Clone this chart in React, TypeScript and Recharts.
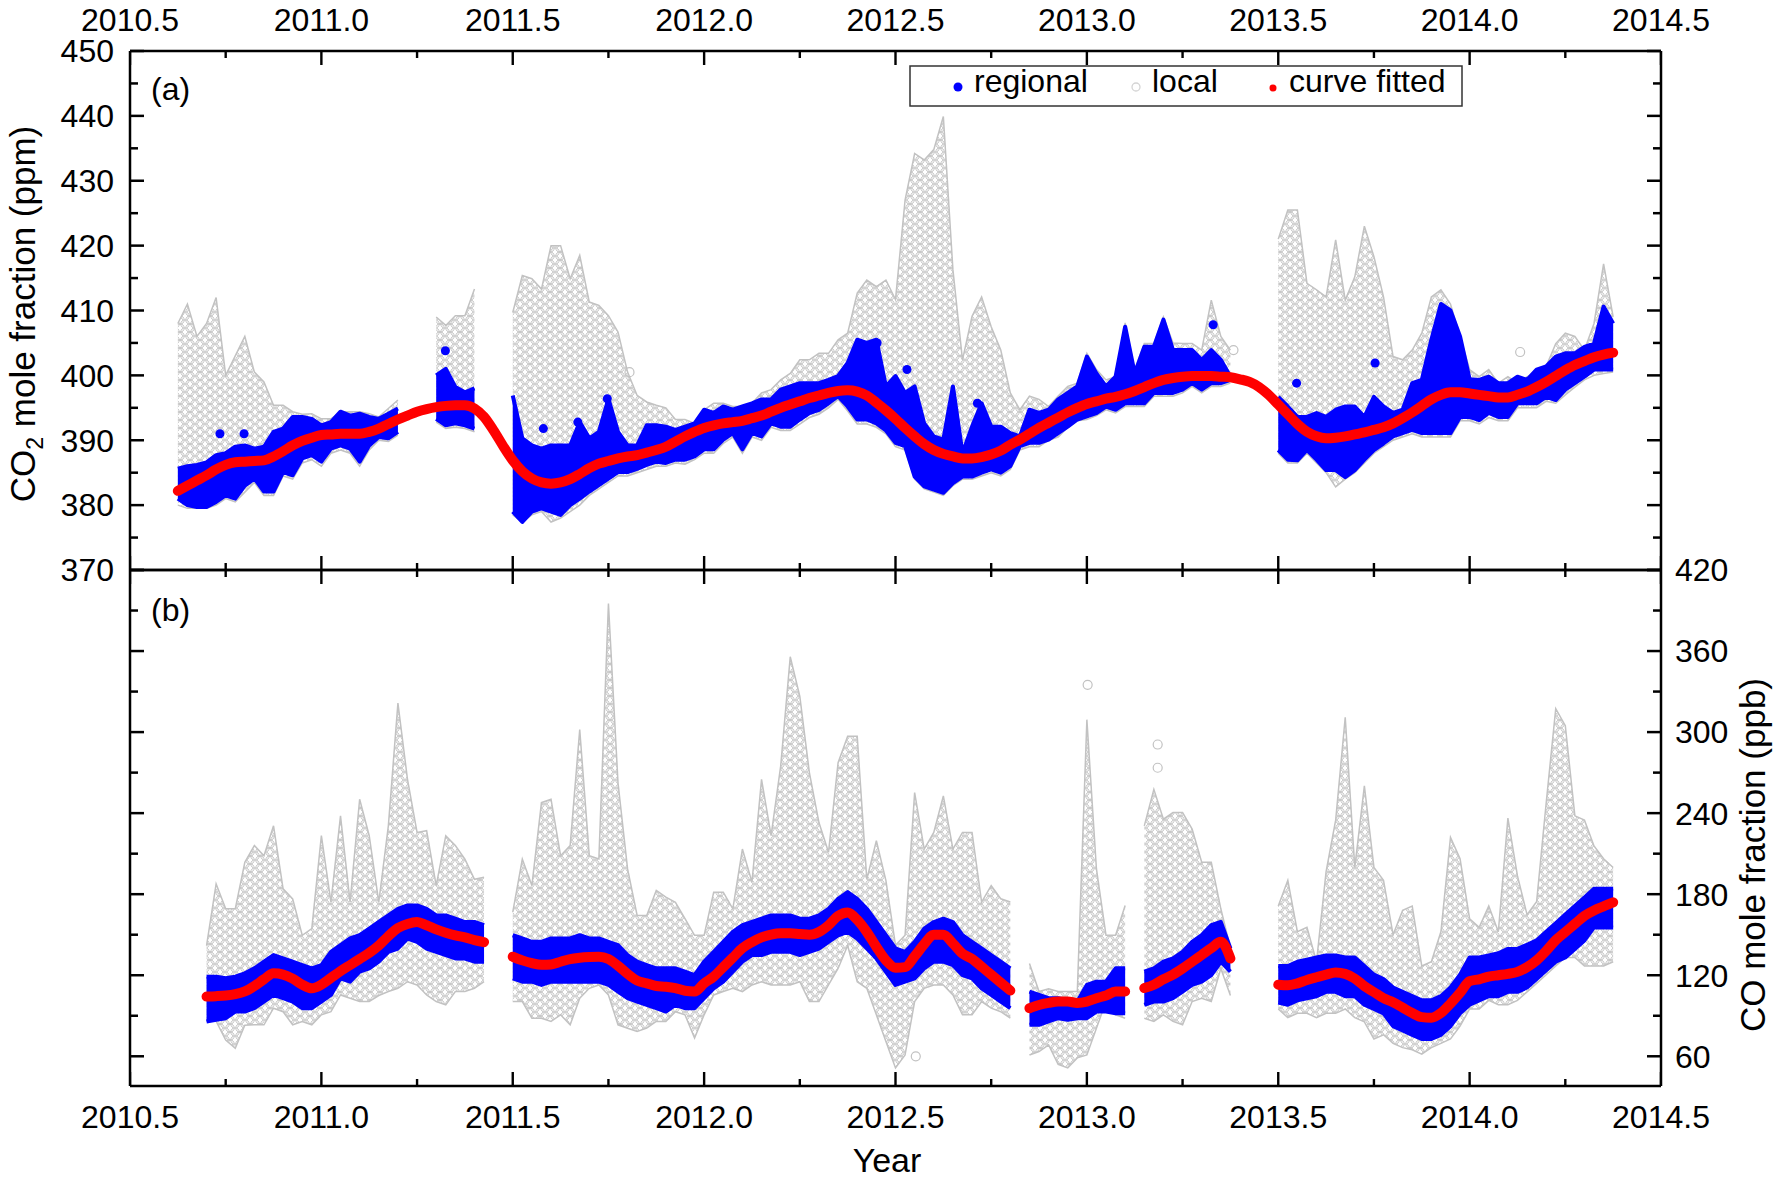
import React from 'react';
import { ComposedChart, Area, Line, Scatter, XAxis, YAxis } from 'recharts';

if (typeof document !== 'undefined') document.body.style.margin = '0';

// time grid (samples every 0.025 yr)
const CO2_START = 2010.625;
const CO_START = 2010.7;
const STEP = 0.025;

// quarter-year ticks; the half-year ones are labelled
const yearTicks = [
  2010.5, 2010.75, 2011, 2011.25, 2011.5, 2011.75, 2012, 2012.25, 2012.5,
  2012.75, 2013, 2013.25, 2013.5, 2013.75, 2014, 2014.25, 2014.5,
];
const co2Ticks = [370, 380, 390, 400, 410, 420, 430, 440, 450];
const co2Minor = [375, 385, 395, 405, 415, 425, 435, 445];
const coTicks = [60, 120, 180, 240, 300, 360, 420];
const coMinor = [90, 150, 210, 270, 330, 390];
const CO2_DOM: [number, number] = [370, 450];
const CO_DOM: [number, number] = [38, 420];

// ---- panel (a) CO2, ppm ----
const co2LocHi = [
  408, 411, 406, 408, 412, 400, 403, 406, 400.5, 399,
  395.4, 395.4, 394.4, 394, 394.1, 393.3, 393.3, 394.4, 394.4, 394.4,
  394.1, 393.6, 394.9, 396.2, null, null, null, 409, 407.7, 409.2,
  409.2, 413.3, null, null, null, 409.7, 415.4, 414.9, 413.3, 420,
  420, 414.9, 418.5, 411.3, 410.8, 409.2, 406.7, 400.5, 396.9, 395.9,
  395.4, 395, 393.2, 393.2, 392.6, 394.7, 395.7, 395.7, 395.2, 395.2,
  395.7, 397.3, 397.8, 399.3, 400.3, 402.4, 402.4, 403.4, 403.4, 405.5,
  406.5, 412.7, 414.7, 413.7, 414.7, 411.7, 427, 434.2, 433.2, 434.8,
  439.9, 416.3, 402.4, 409.1, 412.1, 407.5, 403.9, 397.3, 394.7, 396.8,
  396.3, 395.2, 396.8, 398.3, 398.8, 403.4, 400.9, 399.3, 399.8, 408.1,
  400.9, 404.9, 404.9, 409, 405, 404.9, 404.9, 403.9, 411.6, 406,
  403.9, null, null, null, null, 421, 425.5, 425.5, 414.2, 413.2,
  412.1, 420.9, 411.6, 415.2, 423, 418.3, 412.1, 402.9, 402.4, 403.9,
  406.5, 412.1, 413.2, 411, 406, 400.9, 399.8, 400.9, 398.8, 399.8,
  398.8, 399.8, 400.3, 401.4, 404.9, 406.5, 406, 403.9, 408, 417.2,
  409,
];
const co2LocLo = [
  380, 379.5, 379.5, 379.5, 380, 381, 380.5, 382, 383.5, 381.5,
  381.5, 384.5, 384, 386.5, 387, 386, 388, 388.5, 388, 386,
  388.5, 390, 389.8, 390.8, null, null, null, 392.8, 391.8, 392,
  391.8, 391.3, null, null, null, 378.5, 377.4, 378.5, 379, 377.4,
  378, 379, 380, 381.5, 382.5, 383.5, 384.5, 384.5, 385, 385.5,
  386, 386, 386.5, 386.3, 387, 388, 388, 389.5, 390.5, 388,
  390.5, 390, 392, 391.5, 391.5, 392.5, 393.5, 394, 395, 396.3,
  394.5, 392.5, 392.5, 392, 391, 389, 388.5, 384, 382.5, 382,
  381.5, 383, 384, 384, 384.5, 385, 384.5, 385.5, 388.5, 389,
  389, 390, 390.5, 392, 393, 393.2, 393.8, 394.7, 394.2, 395.2,
  395.2, 395.2, 396.8, 396.8, 396.8, 397.3, 398.3, 397.3, 398.3, 398.3,
  398.8, null, null, null, null, 388, 386.5, 386.5, 388, 386.5,
  385, 382.8, 384, 385, 386.5, 388, 389, 390, 390.5, 391,
  390.5, 390.5, 390.5, 390.5, 393, 393, 392.5, 393.5, 393, 393,
  395, 395, 395, 396, 395.7, 397, 398.2, 399.3, 400, 400.3,
  400.5,
];
const co2RegHi = [
  385.6, 386, 386.2, 386.6, 387.7, 388, 389, 389.2, 388.7, 389,
  391.3, 391.8, 393.6, 393.6, 393.3, 392.3, 392.8, 394.4, 393.8, 394.1,
  393.6, 393.3, 394.1, 394.9, null, null, null, 400, 401, 398.2,
  397.4, 398, null, null, null, 396.9, 390.3, 389.2, 388.7, 389.2,
  389.2, 389.2, 392.8, 390.3, 391.3, 396.4, 391.3, 389.2, 389.2, 392.3,
  392.3, 392.1, 391.6, 392.1, 392.6, 394.7, 394.2, 395.2, 394.7, 395.2,
  395.7, 396.3, 396.3, 397.8, 398.3, 398.8, 398.8, 398.8, 399.3, 399.9,
  401.9, 405.5, 405, 405.5, 398.3, 399.9, 397.3, 398.3, 392.6, 390.6,
  390.1, 398.3, 388, 392.1, 395.7, 392.1, 392.1, 391.1, 390.6, 394.7,
  394.2, 394.7, 396.3, 397.3, 398.3, 402.9, 400.3, 398.3, 399.8, 407.5,
  400.3, 404.4, 404.4, 408.6, 403.9, 403.9, 403.9, 402.4, 403.9, 402.4,
  399.8, null, null, null, null, 396.7, 395.2, 393.6, 393.6, 394.2,
  393.6, 394.7, 395.2, 395.2, 393.6, 396.7, 395.2, 394.2, 394.7, 398.8,
  399.3, 405.5, 411, 410, 406, 399.4, 399.3, 399.8, 398.8, 398.8,
  399.8, 399.3, 400.9, 401.4, 402.9, 403.4, 403.4, 404.4, 404.9, 410.6,
  408,
];
const co2RegLo = [
  381, 380, 379.7, 379.7, 380.5, 381.5, 381, 383, 384.1, 382.1,
  382.1, 385.1, 384.6, 387.2, 387.7, 386.7, 388.7, 389.2, 388.7, 386.7,
  389.2, 390.5, 390.3, 391.3, null, null, null, 393.3, 392.3, 392.6,
  392.3, 391.8, null, null, null, 379, 377.4, 379, 379.5, 379,
  378.5, 380, 381, 382.1, 383.1, 384.1, 385.1, 385.1, 385.6, 386.2,
  386.7, 386.5, 387, 387, 387.5, 388.6, 388.6, 390.1, 391.1, 388.6,
  391.1, 390.6, 392.6, 392.1, 392.1, 393.2, 394.2, 394.7, 395.7, 396.8,
  395.2, 393.2, 393.2, 392.6, 391.5, 389.6, 389.1, 384.4, 382.9, 382.4,
  381.9, 383.4, 384.4, 384.4, 385, 385.5, 385, 386, 389.1, 389.6,
  389.6, 390.1, 391.1, 392.1, 393.2, 393.7, 394.2, 395.2, 394.7, 395.7,
  395.7, 395.7, 397.3, 397.3, 397.3, 397.8, 398.8, 397.8, 398.8, 398.8,
  399.3, null, null, null, null, 388.5, 387, 386.9, 388.5, 387,
  385.4, 385.4, 384.3, 385.4, 387, 388.5, 389.5, 390.6, 391.1, 391.6,
  391.1, 391.1, 391.1, 391.1, 393.6, 393.6, 393.1, 394.2, 393.6, 393.6,
  395.7, 395.7, 395.7, 396.7, 396.2, 397.8, 398.8, 399.8, 400.9, 400.9,
  400.9,
];
const co2Fit = [
  382.2, 383.0, 383.8, 384.6, 385.5, 386.2, 386.6, 386.7, 386.8, 386.9,
  387.5, 388.3, 389.2, 389.9, 390.4, 390.8, 390.9, 391.0, 391.0, 391.0,
  391.3, 391.8, 392.5, 393.2, 393.8, 394.4, 394.8, 395.1, 395.3, 395.4,
  395.4, 394.9, 393.6, 391.5, 389.1, 386.9, 385.2, 384.1, 383.5, 383.3,
  383.5, 384.0, 384.8, 385.7, 386.4, 386.8, 387.2, 387.5, 387.7, 388.1,
  388.5, 389.0, 389.8, 390.6, 391.3, 391.9, 392.3, 392.6, 392.8, 393.0,
  393.4, 393.8, 394.4, 395.0, 395.5, 396.0, 396.5, 396.9, 397.3, 397.6,
  397.7, 397.5, 396.9, 395.8, 394.6, 393.3, 391.9, 390.6, 389.4, 388.5,
  387.9, 387.5, 387.2, 387.2, 387.4, 387.8, 388.4, 389.3, 390.1, 391.0,
  391.9, 392.7, 393.5, 394.3, 395.0, 395.6, 396.0, 396.4, 396.7, 397.1,
  397.6, 398.2, 398.8, 399.3, 399.6, 399.8, 399.9, 399.9, 399.9, 399.8,
  399.7, 399.4, 399.0, 398.2, 397.0, 395.5, 394.0, 392.5, 391.3, 390.6,
  390.3, 390.4, 390.6, 390.9, 391.2, 391.6, 392.0, 392.6, 393.4, 394.3,
  395.3, 396.3, 397.0, 397.4, 397.4, 397.2, 397.0, 396.8, 396.6, 396.6,
  397.0, 397.5, 398.2, 399.0, 399.9, 400.8, 401.6, 402.2, 402.8, 403.2,
  403.5,
];
const co2BlueOut = [
  { year: 2010.735, v: 391 }, { year: 2010.798, v: 391 }, { year: 2011.324, v: 403.8 },
  { year: 2011.58, v: 391.8 }, { year: 2011.67, v: 392.8 }, { year: 2011.747, v: 396.4 },
  { year: 2012.452, v: 405 }, { year: 2012.53, v: 400.9 }, { year: 2012.714, v: 395.7 },
  { year: 2013.33, v: 407.8 }, { year: 2013.548, v: 398.8 }, { year: 2013.753, v: 401.9 },
];
const co2GrayOut = [
  { year: 2011.805, v: 400.5 }, { year: 2013.383, v: 403.9 }, { year: 2014.132, v: 403.6 },
];

// ---- panel (b) CO, ppb ----
const coLocHi = [
  142, 187.7, 169.2, 169.2, 203.6, 216, 208.5, 230.6, 184, 176.6,
  149.6, 154.5, 223.3, 174.2, 238, 174.2, 250.3, 223.3, 174.2, 230.6,
  321.5, 265, 225.7, 227, 186.4, 223.3, 216, 206, 191, 192.6,
  null, null, 166.8, 206, 186.4, 247.8, 250.3, 208.5, 216, 301.8,
  208.5, 206, 395.1, 262.5, 198.7, 164.3, 164.3, 182.8, 177.8, 174,
  161.9, 149.6, 149.6, 181.5, 181.5, 169.2, 213.4, 188.9, 265, 223.3,
  274.8, 355.8, 326.4, 270, 233, 211, 277.3, 296.9, 296.9, 191,
  219.6, 190, 142.2, 149.6, 255.2, 213.4, 225.7, 252.7, 213.4, 225.7,
  225.7, 174.2, 186.4, 176.6, 174.2, null, 128.7, 107.9, 110, 108,
  108, 108, 309.2, 198.7, 149.6, 149.6, 171.7, null, 230.6, 257.6,
  235.5, 240.4, 240.4, 228.2, 203.6, 203.6, 169.2, 140, null, null,
  null, null, 171.2, 190.3, 152.2, 155.4, 130, 196.7, 234.8, 311,
  199.8, 260.2, 199.8, 190.3, 150, 168, 171.2, 126.8, 130, 152.2,
  222.1, 206.2, 161.7, 155.4, 171.2, 152.2, 236.4, 193.5, 164.9, 174.4,
  247.5, 317.4, 304.7, 238, 234.8, 215.7, 206.2, 199.8,
];
const coLocLo = [
  87, 86, 72, 66, 83, 83.3, 83.3, 95.6, 93, 83.3,
  85.8, 83.3, 90.7, 93, 105.4, 103, 100.5, 100.5, 105, 108,
  110.3, 115.2, 112.8, 105.4, 100.5, 98, 108, 108, 110.3, 115.2,
  null, null, 100.5, 100.5, 88.2, 88.2, 85.8, 90.7, 83.3, 103,
  110.3, 112.8, 105.4, 83.3, 80.8, 78.4, 80.8, 85.8, 85.8, 93,
  90.7, 73.5, 90.7, 105.4, 108, 110.3, 107.9, 112.8, 115.2, 112.8,
  112.8, 112.8, 115.2, 100.5, 100.5, 112.8, 125, 142, 115.2, 110.3,
  90.7, 71, 51.4, 61, 100.5, 110.3, 112.8, 112.8, 105.4, 90.7,
  90.7, 100.5, 95.6, 93, 88.2, null, 61, 63.5, 68.4, 54,
  51.4, 58.8, 61, 80.8, 100.5, 90.7, 88.2, null, 88.2, 85.8,
  90.7, 85.8, 83.3, 100.5, 103, 100.5, 125, 105, null, null,
  null, null, 95, 88.6, 91.8, 91.8, 88.6, 91.8, 91.8, 95,
  88.6, 85.5, 72.8, 75.9, 69.6, 66.4, 64.8, 61.6, 66.4, 69.6,
  72.8, 82.3, 95, 95, 101.4, 98.2, 98.2, 101.4, 107.7, 114,
  120.4, 126.8, 133.1, 133.1, 126.8, 126.8, 126.8, 130,
];
const coRegHi = [
  118.9, 118.9, 117.7, 118.9, 121.4, 125.1, 130, 134.9, 132.4, 130,
  127.5, 125.1, 127.5, 137.3, 142.2, 147.2, 149.6, 154.5, 159.4, 164.3,
  169.2, 171.7, 171.7, 169.2, 164.3, 164.3, 161.9, 159.4, 159.4, 157,
  null, null, 149.6, 147.2, 144.7, 144.7, 147.2, 147.2, 147.2, 149.6,
  147.2, 147.2, 144.7, 142.2, 134.9, 130, 127.5, 125.1, 125.1, 125.1,
  122.6, 120.1, 130, 137.3, 144.7, 152.1, 157, 159.4, 161.9, 164.3,
  164.3, 164.3, 161.9, 161.9, 164.3, 169.2, 176.6, 181.5, 176.6, 169.2,
  159.4, 149.6, 139.8, 137.3, 144.7, 154.5, 159.4, 161.9, 159.4, 149.6,
  144.7, 139.8, 134.9, 130, 125.1, null, 107.9, 105.4, 103, 103,
  101.7, 100.5, 112.8, 115.2, 115.2, 125.1, 125.1, null, 122.6, 125.1,
  130, 132.4, 137.3, 144.7, 149.6, 157, 159.4, 139.8, null, null,
  null, null, 126.8, 126.8, 130, 131.5, 133.1, 134.7, 134.7, 133.1,
  133.1, 126.8, 120.4, 117.2, 110.9, 107.7, 104.5, 101.4, 101.4, 104.5,
  110.9, 120.4, 133.1, 133.1, 134.7, 136.3, 139.5, 139.5, 142.6, 145.8,
  152.2, 158.5, 164.9, 171.2, 177.6, 184, 184, 184,
];
const coRegLo = [
  85.8, 87, 88.2, 93.1, 93.1, 95.6, 100.5, 105.4, 103, 100.5,
  95.6, 95.6, 100.5, 105.4, 117.7, 115.2, 122.6, 125.1, 130, 137.3,
  139.8, 147.2, 144.7, 139.8, 137.3, 134.9, 132.4, 132.4, 130, 130,
  null, null, 117.7, 115.2, 115.2, 112.8, 115.2, 115.2, 115.2, 115.2,
  115.2, 115.2, 112.8, 107.9, 103, 100.5, 98.1, 95.6, 93.1, 98.1,
  95.6, 95.6, 103, 110.3, 115.2, 122.6, 130, 134.9, 134.9, 137.3,
  137.3, 137.3, 134.9, 137.3, 139.8, 144.7, 149.6, 152.1, 147.2, 139.8,
  132.4, 122.6, 112.8, 115.2, 117.7, 125.1, 130, 130, 127.5, 120.1,
  117.7, 110.3, 105.4, 100.5, 95.6, null, 83.3, 83.3, 85.8, 88.2,
  87, 88.2, 88.2, 93.1, 93.1, 91.9, 91.9, null, 98.1, 100.5,
  100.5, 103, 107.9, 112.8, 115.2, 120.1, 130, 122.6, null, null,
  null, null, 99.8, 98.2, 101.4, 103, 104.5, 107.7, 107.7, 104.5,
  104.5, 98.2, 95, 91.8, 82.3, 79.1, 75.9, 72.8, 72.8, 75.9,
  82.3, 91.8, 98.2, 101.4, 104.5, 104.5, 107.7, 107.7, 110.9, 117.2,
  123.6, 130, 133.1, 139.5, 145.8, 155.4, 155.4, 155.4,
];
const coFit = [
  104.2, 104.5, 105, 106, 108, 112, 117, 121.4, 120.5, 117.5,
  113, 110.3, 113, 118, 123, 127.5, 132, 136.5, 142, 149,
  155, 158, 159.4, 157, 154, 151.5, 149.5, 148, 146, 144.5,
  null, null, 133.7, 131, 129, 127.7, 128, 130, 132, 133,
  133.5, 133.7, 132, 127, 121, 116, 114, 112, 111.5, 110.5,
  108.5, 108, 114, 119, 126, 133, 140, 144.5, 148, 150,
  151, 151, 150.5, 150, 152, 157, 164, 166.5, 161, 152,
  141, 131, 125.5, 126, 134, 143, 150, 150, 143.5, 136,
  132.1, 126.3, 120.4, 114.6, 108.7, null, 95.6, 98, 99.5, 100.5,
  100.5, 99.5, 100.5, 103, 105, 107.9, 108, null, 110.5, 113,
  117, 120.5, 125, 130, 135, 140, 144.7, 132.4, null, null,
  null, null, 113, 112.5, 114, 116.5, 118.5, 120.5, 122, 121,
  117.5, 112, 107.5, 103, 100, 96, 92, 89, 88.6, 92,
  99, 107, 115.6, 117, 119, 120, 121, 122.5, 126, 131,
  138, 146, 152, 158, 164, 168, 171, 174,
];
const coGrayOut = [
  { year: 2013.002, v: 335 }, { year: 2013.185, v: 290.8 }, { year: 2013.185, v: 273.6 },
  { year: 2012.553, v: 60 },
];

const buildRows = (start: number, hi: any[], lo: any[], rHi: any[], rLo: any[], fit: any[]) =>
  fit.map((f, i) => ({
    year: +(start + i * STEP).toFixed(3),
    loc: hi[i] == null ? null : [lo[i], hi[i]],
    reg: rHi[i] == null ? null : [rLo[i], rHi[i]],
    fit: f,
  }));

const co2Rows = buildRows(CO2_START, co2LocHi, co2LocLo, co2RegHi, co2RegLo, co2Fit);
const coRows = buildRows(CO_START, coLocHi, coLocLo, coRegHi, coRegLo, coFit);

// x tick anchors on each frame edge (placed by the library's scales)
const edgeTicks = (v: number) => yearTicks.map((t) => ({ year: t, v }));

const frame = { stroke: '#000', strokeWidth: 2.5 };
const tickFont = { fontSize: 32, fill: '#000' };
const GRAY = '#c2c2c2';
const xDom: [number, number] = [2010.5, 2014.5];

const noLabel = () => <g />;

// x tick labels, anchored on the frame point recharts hands over (tickSize 0, tickMargin 0)
const xLabel = (side: 'top' | 'bottom') => (p: any) => {
  const v = Number(p.payload.value);
  const major = Math.abs(v * 2 - Math.round(v * 2)) < 1e-6;
  if (!major) return <g />;
  return (
    <text x={Number(p.x)} y={side === 'top' ? Number(p.y) - 20 : Number(p.y) + 42}
      textAnchor="middle" fontSize={32} fill="#000">
      {v.toFixed(1)}
    </text>
  );
};

// inward x tick mark drawn at a scatter anchor (long on half years)
const tickMark = (side: 'top' | 'bottom') => (p: any) => {
  const yr = Number(p.payload?.year ?? p.year);
  const major = Math.abs(yr * 2 - Math.round(yr * 2)) < 1e-6;
  const len = major ? 14 : 7;
  return <rect x={p.cx - 1.2} y={side === 'top' ? p.cy : p.cy - len} width={2.4} height={len} fill="#000" />;
};

const ring = (p: any) => (
  <circle cx={p.cx} cy={p.cy} r={4.5} fill="none" stroke={GRAY} strokeWidth={1.2} />
);

const RingPattern = ({ id }: { id: string }) => (
  <defs>
    <pattern id={id} width="10" height="8" patternUnits="userSpaceOnUse">
      <circle cx="5" cy="4" r="4.2" fill="none" stroke={GRAY} strokeWidth="1" />
      <circle cx="0" cy="0" r="4.2" fill="none" stroke={GRAY} strokeWidth="1" />
      <circle cx="10" cy="0" r="4.2" fill="none" stroke={GRAY} strokeWidth="1" />
      <circle cx="0" cy="8" r="4.2" fill="none" stroke={GRAY} strokeWidth="1" />
      <circle cx="10" cy="8" r="4.2" fill="none" stroke={GRAY} strokeWidth="1" />
    </pattern>
  </defs>
);

export default function App() {
  return (
    <div
      style={{
        position: 'relative',
        width: 1775,
        height: 1178,
        background: '#fff',
        fontFamily: '"Liberation Sans", Arial, Helvetica, sans-serif',
        overflow: 'hidden',
      }}
    >
      {/* panel (a) */}
      <div style={{ position: 'absolute', left: 0, top: 0 }}>
        <ComposedChart width={1775} height={600} data={co2Rows} margin={{ top: 11, right: 114, bottom: 29, left: 30 }}>
          <RingPattern id="ringsA" />
          <XAxis xAxisId="x" orientation="top" type="number" dataKey="year" domain={xDom} allowDataOverflow
            ticks={yearTicks} interval={0} height={40} tickLine={false} axisLine={frame} tickSize={0} tickMargin={0}
            tick={xLabel('top')} />
          <XAxis xAxisId="b" orientation="bottom" type="number" domain={xDom} allowDataOverflow
            ticks={yearTicks} interval={0} height={1} tickLine={false} axisLine={frame} tickSize={0} tickMargin={0}
            tick={noLabel} />
          <YAxis yAxisId="y" orientation="left" type="number" domain={CO2_DOM} allowDataOverflow width={100}
            ticks={co2Ticks} interval={0} tickLine={false} axisLine={false} tickSize={0} tickMargin={16} tick={tickFont} />
          <YAxis yAxisId="lMaj" orientation="left" mirror type="number" domain={CO2_DOM} allowDataOverflow width={1}
            ticks={co2Ticks} interval={0} tick={noLabel} tickSize={14} tickLine={frame} axisLine={frame} />
          <YAxis yAxisId="lMin" orientation="left" mirror type="number" domain={CO2_DOM} allowDataOverflow width={1}
            ticks={co2Minor} interval={0} tick={noLabel} tickSize={7} tickLine={frame} axisLine={false} />
          <YAxis yAxisId="rMaj" orientation="right" mirror type="number" domain={CO2_DOM} allowDataOverflow width={1}
            ticks={co2Ticks} interval={0} tick={noLabel} tickSize={14} tickLine={frame} axisLine={frame} />
          <YAxis yAxisId="rMin" orientation="right" mirror type="number" domain={CO2_DOM} allowDataOverflow width={1}
            ticks={co2Minor} interval={0} tick={noLabel} tickSize={7} tickLine={frame} axisLine={false} />
          <Area xAxisId="x" yAxisId="y" dataKey="loc" type="linear" stroke={GRAY} strokeWidth={1.5}
            fill="url(#ringsA)" fillOpacity={1} isAnimationActive={false} />
          <Scatter xAxisId="x" yAxisId="y" data={co2GrayOut} dataKey="v" shape={ring} isAnimationActive={false} />
          <Area xAxisId="x" yAxisId="y" dataKey="reg" type="linear" stroke="#0000ff" strokeWidth={4}
            strokeLinejoin="round" fill="#0000ff" fillOpacity={1} isAnimationActive={false} />
          <Scatter xAxisId="x" yAxisId="y" data={co2BlueOut} dataKey="v" fill="#0000ff" isAnimationActive={false} />
          <Line xAxisId="x" yAxisId="y" dataKey="fit" type="monotone" stroke="#ff0000" strokeWidth={10}
            strokeLinecap="round" dot={false} isAnimationActive={false} />
          <Scatter xAxisId="x" yAxisId="y" data={edgeTicks(CO2_DOM[1])} dataKey="v" shape={tickMark('top')}
            isAnimationActive={false} />
          <Scatter xAxisId="x" yAxisId="y" data={edgeTicks(CO2_DOM[0])} dataKey="v" shape={tickMark('bottom')}
            isAnimationActive={false} />
        </ComposedChart>
      </div>

      {/* panel (b) */}
      <div style={{ position: 'absolute', left: 0, top: 540 }}>
        <ComposedChart width={1775} height={638} data={coRows} margin={{ top: 29, right: 14, bottom: 52, left: 130 }}>
          <RingPattern id="ringsB" />
          <XAxis xAxisId="x" orientation="bottom" type="number" dataKey="year" domain={xDom} allowDataOverflow
            ticks={yearTicks} interval={0} height={40} tickLine={false} axisLine={frame} tickSize={0} tickMargin={0}
            tick={xLabel('bottom')} />
          <XAxis xAxisId="t" orientation="top" type="number" domain={xDom} allowDataOverflow
            ticks={yearTicks} interval={0} height={1} tickLine={false} axisLine={frame} tickSize={0} tickMargin={0}
            tick={noLabel} />
          <YAxis yAxisId="y" orientation="right" type="number" domain={CO_DOM} allowDataOverflow width={100}
            ticks={coTicks} interval={0} tickLine={false} axisLine={false} tickSize={0} tickMargin={14} tick={tickFont} />
          <YAxis yAxisId="lMaj" orientation="left" mirror type="number" domain={CO_DOM} allowDataOverflow width={1}
            ticks={coTicks} interval={0} tick={noLabel} tickSize={14} tickLine={frame} axisLine={frame} />
          <YAxis yAxisId="lMin" orientation="left" mirror type="number" domain={CO_DOM} allowDataOverflow width={1}
            ticks={coMinor} interval={0} tick={noLabel} tickSize={7} tickLine={frame} axisLine={false} />
          <YAxis yAxisId="rMaj" orientation="right" mirror type="number" domain={CO_DOM} allowDataOverflow width={1}
            ticks={coTicks} interval={0} tick={noLabel} tickSize={14} tickLine={frame} axisLine={frame} />
          <YAxis yAxisId="rMin" orientation="right" mirror type="number" domain={CO_DOM} allowDataOverflow width={1}
            ticks={coMinor} interval={0} tick={noLabel} tickSize={7} tickLine={frame} axisLine={false} />
          <Area xAxisId="x" yAxisId="y" dataKey="loc" type="linear" stroke={GRAY} strokeWidth={1.5}
            fill="url(#ringsB)" fillOpacity={1} isAnimationActive={false} />
          <Scatter xAxisId="x" yAxisId="y" data={coGrayOut} dataKey="v" shape={ring} isAnimationActive={false} />
          <Area xAxisId="x" yAxisId="y" dataKey="reg" type="linear" stroke="#0000ff" strokeWidth={4}
            strokeLinejoin="round" fill="#0000ff" fillOpacity={1} isAnimationActive={false} />
          <Line xAxisId="x" yAxisId="y" dataKey="fit" type="monotone" stroke="#ff0000" strokeWidth={10}
            strokeLinecap="round" dot={false} isAnimationActive={false} />
          <Scatter xAxisId="x" yAxisId="y" data={edgeTicks(CO_DOM[1])} dataKey="v" shape={tickMark('top')}
            isAnimationActive={false} />
          <Scatter xAxisId="x" yAxisId="y" data={edgeTicks(CO_DOM[0])} dataKey="v" shape={tickMark('bottom')}
            isAnimationActive={false} />
        </ComposedChart>
      </div>

      {/* titles, panel letters and legend */}
      <svg width={1775} height={1178} style={{ position: 'absolute', left: 0, top: 0, pointerEvents: 'none' }}>
        <text transform="translate(35, 314) rotate(-90)" textAnchor="middle" fontSize={35} fill="#000">
          CO<tspan fontSize={23} dy={8}>2</tspan><tspan dy={-8}> mole fraction (ppm)</tspan>
        </text>
        <text transform="translate(1765, 855) rotate(-90)" textAnchor="middle" fontSize={35} fill="#000">
          CO mole fraction (ppb)
        </text>
        <text x={887} y={1172} textAnchor="middle" fontSize={34} fill="#000">Year</text>
        <text x={151} y={100} fontSize={32} fill="#000">(a)</text>
        <text x={151} y={621} fontSize={32} fill="#000">(b)</text>
        <rect x={910} y={66} width={552} height={40} fill="#fff" stroke="#333" strokeWidth={1.5} />
        <circle cx={958} cy={87} r={4.5} fill="#0000ff" />
        <text x={974} y={92} fontSize={32} fill="#000">regional</text>
        <circle cx={1136} cy={87} r={4} fill="none" stroke="#d4d4d4" strokeWidth={1.3} />
        <text x={1152} y={92} fontSize={32} fill="#000">local</text>
        <circle cx={1273} cy={88} r={3.5} fill="#ff0000" />
        <text x={1289} y={92} fontSize={32} fill="#000">curve fitted</text>
      </svg>
    </div>
  );
}
